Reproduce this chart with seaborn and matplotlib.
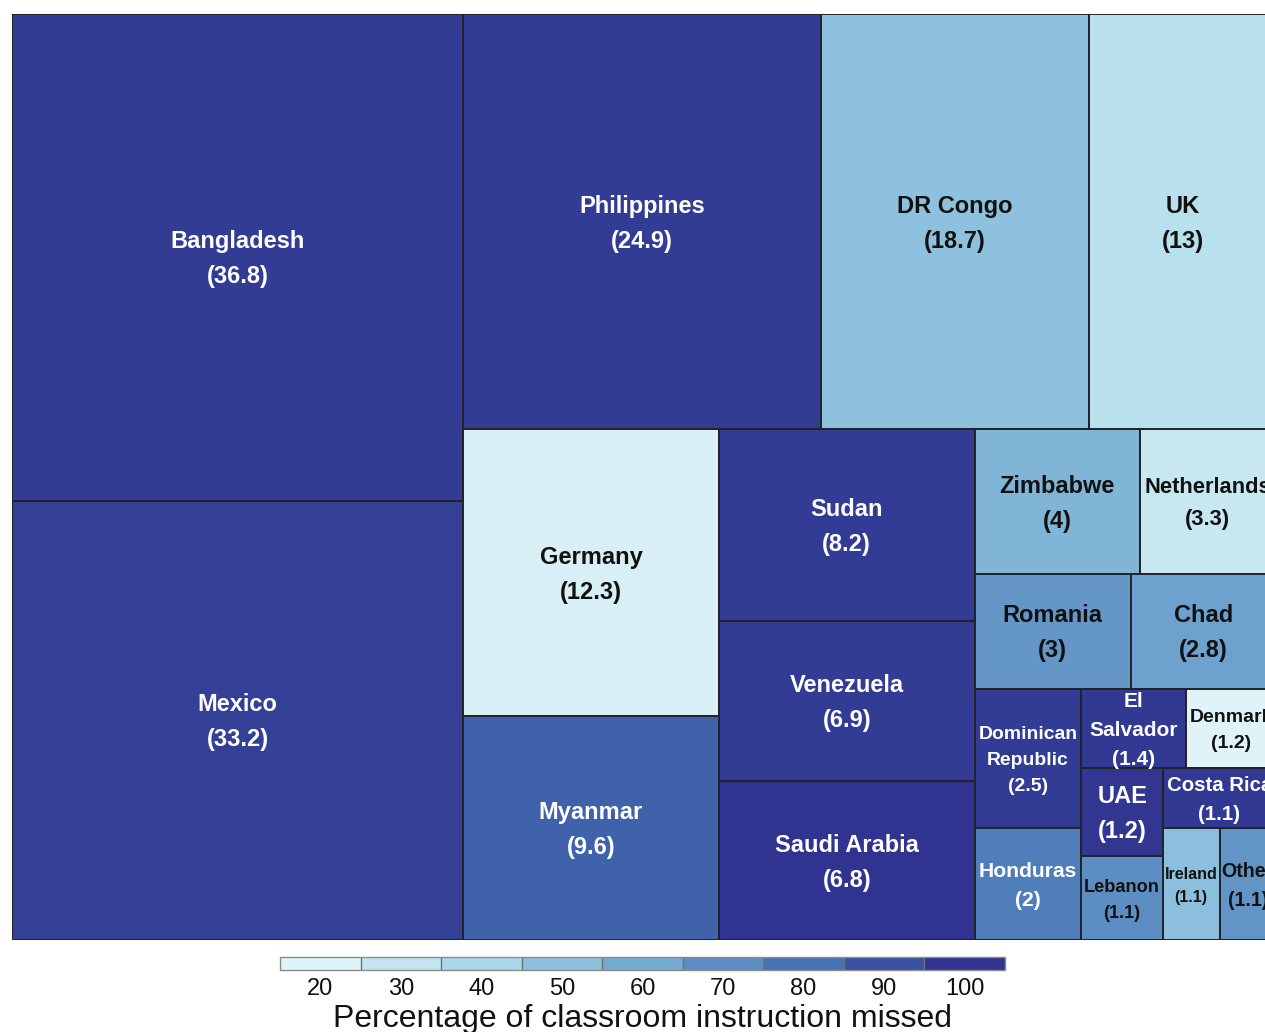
import numpy as np
import pandas as pd
import matplotlib
matplotlib.use("Agg")
import matplotlib.pyplot as plt
import matplotlib.colors as mcolors
from matplotlib.cm import ScalarMappable
from matplotlib.patches import Rectangle
import seaborn as sns

# ---------------- data ----------------
countries = ["Bangladesh", "Mexico", "Philippines", "DR Congo", "UK", "Germany",
             "Myanmar", "Sudan", "Venezuela", "Saudi Arabia", "Zimbabwe",
             "Netherlands", "Romania", "Chad", "Dominican\nRepublic", "Honduras",
             "El\nSalvador", "Denmark", "UAE", "Lebanon", "Costa Rica",
             "Ireland", "Other"]
sizes = [36.8, 33.2, 24.9, 18.7, 13, 12.3, 9.6, 8.2, 6.9, 6.8, 4, 3.3, 3,
         2.8, 2.5, 2, 1.4, 1.2, 1.2, 1.14, 1.13, 1.07, 1.06]
pct_missed = [97, 96, 97, 50, 34, 23, 85, 97, 97, 100, 55, 29, 67, 63, 97,
              76, 98, 18, 99, 70, 98, 51, 68]
legend_ticks = [20, 30, 40, 50, 60, 70, 80, 90, 100]
legend_title = "Percentage of classroom instruction missed"

df = pd.DataFrame({"country": countries, "size": sizes, "pct": pct_missed})

# ---------------- style ----------------
sns.set_theme(style="white")
plt.rcParams["font.family"] = ["Liberation Sans", "DejaVu Sans"]

anchor_colors = ["#e0f3f8", "#c4e5f0", "#a8d7e9", "#8ec1de", "#74aad2",
                 "#5d8fc3", "#4773b4", "#3a53a2", "#30338f"]
cmap = sns.blend_palette(anchor_colors, as_cmap=True)
norm = mcolors.Normalize(vmin=legend_ticks[0], vmax=legend_ticks[-1], clip=True)

FIG_W, FIG_H = 1265, 1032
fig = plt.figure(figsize=(FIG_W / 100, FIG_H / 100), dpi=100)
fig.patch.set_facecolor("white")

ax_l, ax_t, ax_w, ax_h = 12, 14, 1264, 926
ax = fig.add_axes([ax_l / FIG_W, 1 - (ax_t + ax_h) / FIG_H, ax_w / FIG_W, ax_h / FIG_H])
W, H = float(ax_w), float(ax_h)
ax.set_xlim(0, W)
ax.set_ylim(H, 0)
ax.set_axis_off()


# ---------------- squarified layout ----------------
def squarify(values, x, y, w, h):
    total = sum(values)
    areas = [v / total * w * h for v in values]
    rects = []
    i = 0
    while i < len(areas):
        vertical = w >= h
        side = h if vertical else w

        def first_aspect(row):
            thick = sum(row) / side
            length = row[0] / thick
            return max(thick / length, length / thick)

        row = [areas[i]]
        j = i + 1
        while j < len(areas) and first_aspect(row + [areas[j]]) <= first_aspect(row):
            row.append(areas[j])
            j += 1
        thick = sum(row) / side
        pos = 0.0
        for a in row:
            length = a / thick
            if vertical:
                rects.append((x, y + pos, thick, length))
            else:
                rects.append((x + pos, y, length, thick))
            pos += length
        if vertical:
            x += thick
            w -= thick
        else:
            y += thick
            h -= thick
        i = j
    return rects


rects = squarify(df["size"].tolist(), 0.0, 0.0, W, H)

fig.canvas.draw()
renderer = fig.canvas.get_renderer()
px_per_x = ax.transData.transform((1, 0))[0] - ax.transData.transform((0, 0))[0]
px_per_y = abs(ax.transData.transform((0, 1))[1] - ax.transData.transform((0, 0))[1])

BASE_FS = 17
for (rx, ry, rw, rh), (_, row) in zip(rects, df.iterrows()):
    col = cmap(norm(row["pct"]))
    ax.add_patch(Rectangle((rx, ry), rw, rh, facecolor=col, edgecolor="#222228",
                           linewidth=1.4))
    r, g, b = col[:3]
    bright = 0.299 * r + 0.587 * g + 0.114 * b
    tcol = "white" if bright < 0.49 else "#111111"
    label = f"{row['country']}\n({round(row['size'], 1):g})"
    t = ax.text(rx + rw / 2, ry + rh / 2 + 2, label, ha="center", va="center",
                fontsize=BASE_FS, fontweight="bold", color=tcol,
                linespacing=1.67, multialignment="center")
    bb = t.get_window_extent(renderer)
    scale = min(1.0, 0.93 * rw * px_per_x / bb.width, 1.03 * rh * px_per_y / bb.height)
    if scale < 1.0:
        t.set_fontsize(BASE_FS * scale)

# ---------------- legend ----------------
cax = fig.add_axes([280 / FIG_W, 1 - 970 / FIG_H, 725 / FIG_W, 13 / FIG_H])
bounds = np.arange(legend_ticks[0] - 5, legend_ticks[-1] + 6, 10)
cb_cmap = mcolors.ListedColormap([cmap(norm(v)) for v in legend_ticks])
cb_norm = mcolors.BoundaryNorm(bounds, cb_cmap.N)
cb = fig.colorbar(ScalarMappable(norm=cb_norm, cmap=cb_cmap), cax=cax,
                  orientation="horizontal", ticks=legend_ticks, drawedges=True)
cb.outline.set_edgecolor("#8a8a8a")
cb.outline.set_linewidth(1.0)
cb.dividers.set_color("#707070")
cb.dividers.set_linewidth(1.0)
cax.minorticks_off()
cax.tick_params(which="both", length=0, labelsize=17, pad=6, colors="#111111")
cb.set_label(legend_title, fontsize=23, labelpad=3, color="#111111")

fig.savefig("out.png", dpi=100, facecolor="white")
